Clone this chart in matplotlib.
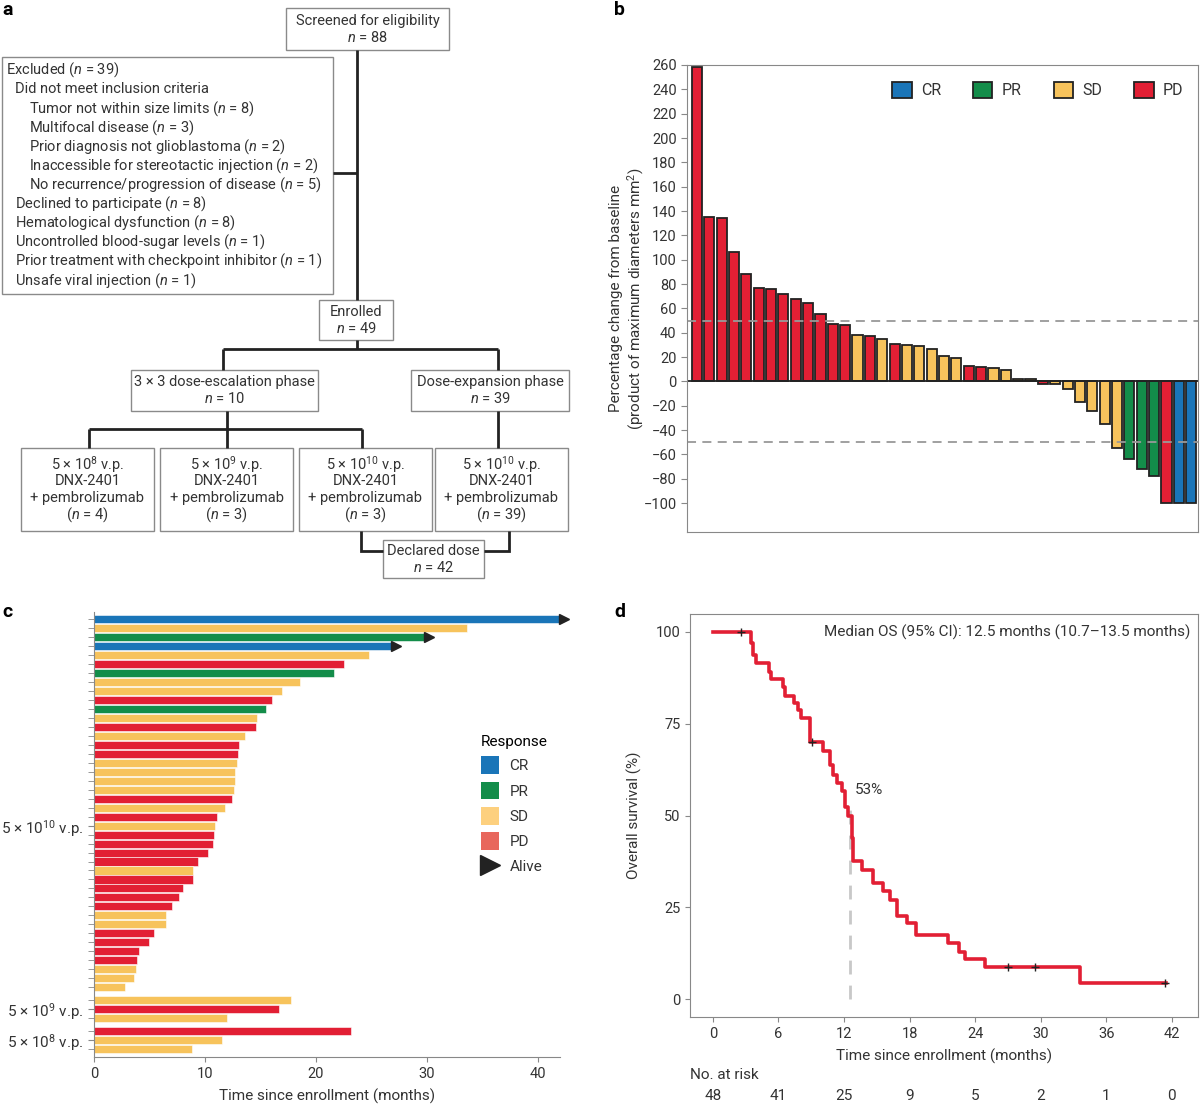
import matplotlib
matplotlib.use("Agg")
import matplotlib.pyplot as plt
from matplotlib.patches import Rectangle, Patch
from matplotlib.lines import Line2D
import matplotlib.transforms as mtrans
import numpy as np

FONT = "Roboto"
plt.rcParams['font.family'] = [FONT, 'DejaVu Sans']
plt.rcParams['mathtext.fontset'] = 'custom'
plt.rcParams['mathtext.rm'] = FONT
plt.rcParams['mathtext.it'] = FONT + ':italic'
plt.rcParams['mathtext.bf'] = FONT + ':bold'
plt.rcParams['font.size'] = 10.5

COL = {'CR': '#1a75b8', 'PR': '#138d4a', 'SD': '#f7c35c', 'PD': '#e21f34'}
TXT = '#333333'

# ---------------- data ----------------
# panel b waterfall
wf_values = [258, 135, 134, 106, 88, 77, 76, 72, 68, 64, 55, 47, 46, 38, 37, 35, 31, 30, 29, 27,
             21, 19, 13, 12, 11, 9, 2, 2, -2, -2, -6, -17, -24, -35, -55, -64, -72, -78, -100, -100, -100]
wf_resp = ['PD'] * 13 + ['SD', 'PD', 'SD', 'PD', 'SD', 'SD', 'SD', 'SD', 'SD', 'PD', 'PD', 'SD', 'SD',
           'SD', 'SD', 'PD', 'SD', 'SD', 'SD', 'SD', 'SD', 'SD', 'PR', 'PR', 'PR', 'PD', 'CR', 'CR']
wf_yticks = list(range(-100, 261, 20))

# panel c swimmer
sw_groups = ['5 × 10$^{10}$ v.p.', '5 × 10$^{9}$ v.p.', '5 × 10$^{8}$ v.p.']
sw_time_10 = [42, 33.6, 29.8, 26.9, 24.8, 22.5, 21.6, 18.6, 16.9, 16.0, 15.5, 14.7, 14.6, 13.6, 13.1, 13.0,
              12.9, 12.7, 12.7, 12.6, 12.4, 11.8, 11.1, 10.9, 10.8, 10.7, 10.3, 9.4, 8.9, 8.9, 8.0, 7.7,
              7.0, 6.5, 6.5, 5.4, 5.0, 4.1, 3.9, 3.8, 3.6, 2.8]
sw_resp_10 = ['CR', 'SD', 'PR', 'CR', 'SD', 'PD', 'PR', 'SD', 'SD', 'PD', 'PR', 'SD', 'PD', 'SD', 'PD', 'PD',
              'SD', 'SD', 'SD', 'SD', 'PD', 'SD', 'PD', 'SD', 'PD', 'PD', 'PD', 'PD', 'SD', 'PD', 'PD', 'PD',
              'PD', 'SD', 'SD', 'PD', 'PD', 'PD', 'PD', 'SD', 'SD', 'SD']
sw_alive_10 = [True, False, True, True] + [False] * 38
sw_time_9 = [17.8, 16.7, 12.0]
sw_resp_9 = ['SD', 'PD', 'SD']
sw_time_8 = [23.2, 11.5, 8.8]
sw_resp_8 = ['PD', 'SD', 'SD']

# panel d Kaplan-Meier (step start times, survival %)
km_time = [0, 3.5, 3.7, 3.95, 5.1, 5.3, 6.4, 6.6, 7.4, 7.8, 8.1, 8.9, 10.1, 10.7, 11.0, 11.4, 11.8,
           12.1, 12.4, 12.7, 12.85, 13.6, 14.65, 15.55, 16.2, 16.85, 17.8, 18.6, 21.5, 22.5, 23.1, 24.9, 33.6, 41.5]
km_surv = [100, 97, 93.8, 91.5, 89.2, 87.1, 85, 82.6, 80.6, 78.8, 76.5, 70, 67.6, 63.7, 61, 58.8, 56.6,
           52.4, 50, 44, 37.5, 35.2, 31.6, 29.4, 27.1, 22.6, 20.8, 17.4, 15.2, 12.9, 10.8, 8.6, 4.3, 4.3]
km_censor_t = [2.6, 9.1, 27.0, 29.5, 41.4]
km_censor_s = [100, 70, 8.6, 8.6, 4.3]
risk_times = [0, 6, 12, 18, 24, 30, 36, 42]
risk_n = [48, 41, 25, 9, 5, 2, 1, 0]

W, H = 1200, 1105
fig = plt.figure(figsize=(12, 11.05), dpi=100)

def rect(x0, y0, x1, y1):
    return [x0 / W, 1 - y1 / H, (x1 - x0) / W, (y1 - y0) / H]

# ---------------- panel a ----------------
axa = fig.add_axes([0, 1 - 590 / H, 600 / W, 590 / H])
axa.set_xlim(0, 600); axa.set_ylim(590, 0); axa.axis('off')
BOXC = '#8a8a8a'

def box(x0, y0, x1, y1, lines, fs=10.5):
    axa.add_patch(Rectangle((x0, y0), x1 - x0, y1 - y0, fill=False, ec=BOXC, lw=1.0))
    n = len(lines)
    cy = (y0 + y1) / 2
    sp = 16.5
    for i, t in enumerate(lines):
        axa.text((x0 + x1) / 2, cy + (i - (n - 1) / 2) * sp, t, ha='center', va='center',
                 fontsize=fs, color=TXT)

def line(xs, ys):
    axa.plot(xs, ys, color='#222222', lw=2, solid_capstyle='butt', solid_joinstyle='miter')

line([357, 357], [50, 300]); line([333, 357], [173, 173])
line([357, 357], [340, 349]); line([223, 498], [349, 349])
line([223, 223], [349, 370]); line([498, 498], [349, 370])
line([227, 227], [411, 448]); line([89, 362], [429, 429])
line([89, 89], [429, 448]); line([362, 362], [429, 448])
line([498, 498], [411, 448])
line([361, 361, 383], [531, 551, 551]); line([509, 509, 484], [531, 551, 551])

box(286, 8, 449, 50, ['Screened for eligibility', '$\\mathit{n}$ = 88'])
box(319, 300, 393, 340, ['Enrolled', '$\\mathit{n}$ = 49'])
box(131, 370, 318, 411, ['3 × 3 dose-escalation phase', '$\\mathit{n}$ = 10'])
box(411, 370, 569, 411, ['Dose-expansion phase', '$\\mathit{n}$ = 39'])
box(21, 448, 154, 531, ['5 × 10$^{8}$ v.p.', 'DNX-2401', '+ pembrolizumab', '($\\mathit{n}$ = 4)'])
box(160, 448, 293, 531, ['5 × 10$^{9}$ v.p.', 'DNX-2401', '+ pembrolizumab', '($\\mathit{n}$ = 3)'])
box(299, 448, 432, 531, ['5 × 10$^{10}$ v.p.', 'DNX-2401', '+ pembrolizumab', '($\\mathit{n}$ = 3)'])
box(435, 448, 568, 531, ['5 × 10$^{10}$ v.p.', 'DNX-2401', '+ pembrolizumab', '($\\mathit{n}$ = 39)'])
box(383, 540, 484, 578, ['Declared dose', '$\\mathit{n}$ = 42'])

axa.add_patch(Rectangle((2, 57), 331, 237, fill=False, ec=BOXC, lw=1.0))
excl = [(6, 'Excluded ($\\mathit{n}$ = 39)'),
        (15, 'Did not meet inclusion criteria'),
        (29, 'Tumor not within size limits ($\\mathit{n}$ = 8)'),
        (29, 'Multifocal disease ($\\mathit{n}$ = 3)'),
        (29, 'Prior diagnosis not glioblastoma ($\\mathit{n}$ = 2)'),
        (29, 'Inaccessible for stereotactic injection ($\\mathit{n}$ = 2)'),
        (29, 'No recurrence/progression of disease ($\\mathit{n}$ = 5)'),
        (15, 'Declined to participate ($\\mathit{n}$ = 8)'),
        (15, 'Hematological dysfunction ($\\mathit{n}$ = 8)'),
        (15, 'Uncontrolled blood-sugar levels ($\\mathit{n}$ = 1)'),
        (15, 'Prior treatment with checkpoint inhibitor ($\\mathit{n}$ = 1)'),
        (15, 'Unsafe viral injection ($\\mathit{n}$ = 1)')]
for i, (x, t) in enumerate(excl):
    axa.text(x, 70 + i * 19.1, t, ha='left', va='center', fontsize=10.5, color=TXT)

# ---------------- panel b ----------------
axb = fig.add_axes(rect(687, 65, 1198, 532))
xb = np.arange(len(wf_values))
axb.bar(xb, wf_values, width=0.82, color=[COL[r] for r in wf_resp], edgecolor='#222222', lw=1.3)
axb.set_xlim(-0.8, len(wf_values) - 0.45)
axb.set_ylim(-123.8, 260)
axb.axhline(0, color='#222222', lw=1.3)
for yv in (50, -50):
    axb.axhline(yv, color='#999999', lw=1.3, ls=(0, (5, 3.5)))
axb.set_yticks(wf_yticks)
axb.set_xticks([])
for s in axb.spines.values():
    s.set_color('#888888')
axb.tick_params(axis='y', length=4, color='#888888', labelsize=10.5, labelcolor=TXT)
axb.set_ylabel('Percentage change from baseline\n(product of maximum diameters mm$^{2}$)',
               fontsize=11, color=TXT, labelpad=-2)
hb = [Patch(fc=COL[k], ec='#222222', lw=1.3, label=k) for k in ['CR', 'PR', 'SD', 'PD']]
axb.legend(handles=hb, loc='upper right', ncol=4, frameon=False, fontsize=11.5,
           handlelength=1.2, handleheight=1.2, columnspacing=2.0, handletextpad=0.6,
           bbox_to_anchor=(1.0, 0.995), labelcolor=TXT)

# ---------------- panel c ----------------
axc = fig.add_axes(rect(94, 612, 560, 1057))
times = sw_time_10 + sw_time_9 + sw_time_8
resps = sw_resp_10 + sw_resp_9 + sw_resp_8
alive = sw_alive_10 + [False] * 6
sizes = [len(sw_time_10), len(sw_time_9), len(sw_time_8)]
ypos = []
start = 0.0
centers = []
for g, n in enumerate(sizes):
    ys = [start + i for i in range(n)]
    ypos += ys
    centers.append(np.mean(ys) if g else ys[23])
    start += n + 0.44
ypos = np.array(ypos)
axc.barh(ypos, times, height=0.9, color=[COL[r] for r in resps], edgecolor='white', lw=0.4)
for y, t, a in zip(ypos, times, alive):
    if a:
        axc.plot(t + 0.35, y, marker='>', color='#222222', ms=7, clip_on=False)
axc.set_ylim(ypos[-1] + 0.9, -0.8)
axc.set_xlim(0, 42)
axc.set_xticks([0, 10, 20, 30, 40])
axc.set_yticks(ypos, minor=True)
axc.set_yticks(centers)
axc.set_yticklabels(sw_groups, fontsize=11, color=TXT)
axc.tick_params(axis='y', which='both', length=4, color='#888888')
axc.tick_params(axis='x', color='#888888', labelcolor=TXT, labelsize=10.5)
for s in ['top', 'right']:
    axc.spines[s].set_visible(False)
for s in ['left', 'bottom']:
    axc.spines[s].set_color('#888888')
axc.set_xlabel('Time since enrollment (months)', fontsize=11, color=TXT, labelpad=6)
hc = [Patch(fc=COL['CR'], label='CR'), Patch(fc=COL['PR'], label='PR'),
      Patch(fc='#fdd07e', label='SD'), Patch(fc='#e8675c', label='PD'),
      Line2D([], [], marker='>', color='#222222', ls='none', ms=14, label='Alive')]
axc.legend(handles=hc, title='Response', loc='upper left', bbox_to_anchor=(0.80, 0.755),
           frameon=False, fontsize=11, title_fontsize=11, handlelength=1.2, handleheight=1.4,
           alignment='left', labelcolor=TXT, handletextpad=0.7)

# ---------------- panel d ----------------
axd = fig.add_axes(rect(690, 614, 1198, 1017))
axd.step(km_time, km_surv, where='post', color=COL['PD'], lw=2.6)
axd.plot(km_censor_t, km_censor_s, '+', color='#222222', ms=6, mew=1)
axd.plot([12.5, 12.5], [0, 52], color='#c8c8c8', lw=2, ls=(0, (5, 4)), zorder=0)
axd.text(13.0, 55, '53%', fontsize=11, color=TXT, va='bottom')
axd.text(0.985, 0.955, 'Median OS (95% CI): 12.5 months (10.7–13.5 months)', transform=axd.transAxes,
         ha='right', va='center', fontsize=11, color=TXT)
axd.set_xlim(-2.1, 44.4)
axd.set_ylim(-4.9, 104.9)
axd.set_xticks(risk_times)
axd.set_yticks([0, 25, 50, 75, 100])
for s in axd.spines.values():
    s.set_color('#888888')
axd.tick_params(color='#888888', labelcolor=TXT, labelsize=10.5)
axd.set_xlabel('Time since enrollment (months)', fontsize=11, color=TXT, labelpad=6)
axd.set_ylabel('Overall survival (%)', fontsize=11, color=TXT, labelpad=10)
tr = mtrans.blended_transform_factory(axd.transData, axd.transAxes)
axd.text(-2.1, -0.145, 'No. at risk', transform=tr, fontsize=11, color=TXT, va='center')
for t, n in zip(risk_times, risk_n):
    axd.text(t, -0.197, str(n), transform=tr, ha='center', va='center', fontsize=11, color=TXT)

# panel letters
for lab, x, y in [('a', 2, 10), ('b', 614, 10), ('c', 2, 612), ('d', 614, 612)]:
    fig.text(x / W, 1 - y / H, lab, fontsize=14, fontweight='bold', va='center', ha='left')

fig.savefig('out.png', dpi=100)
